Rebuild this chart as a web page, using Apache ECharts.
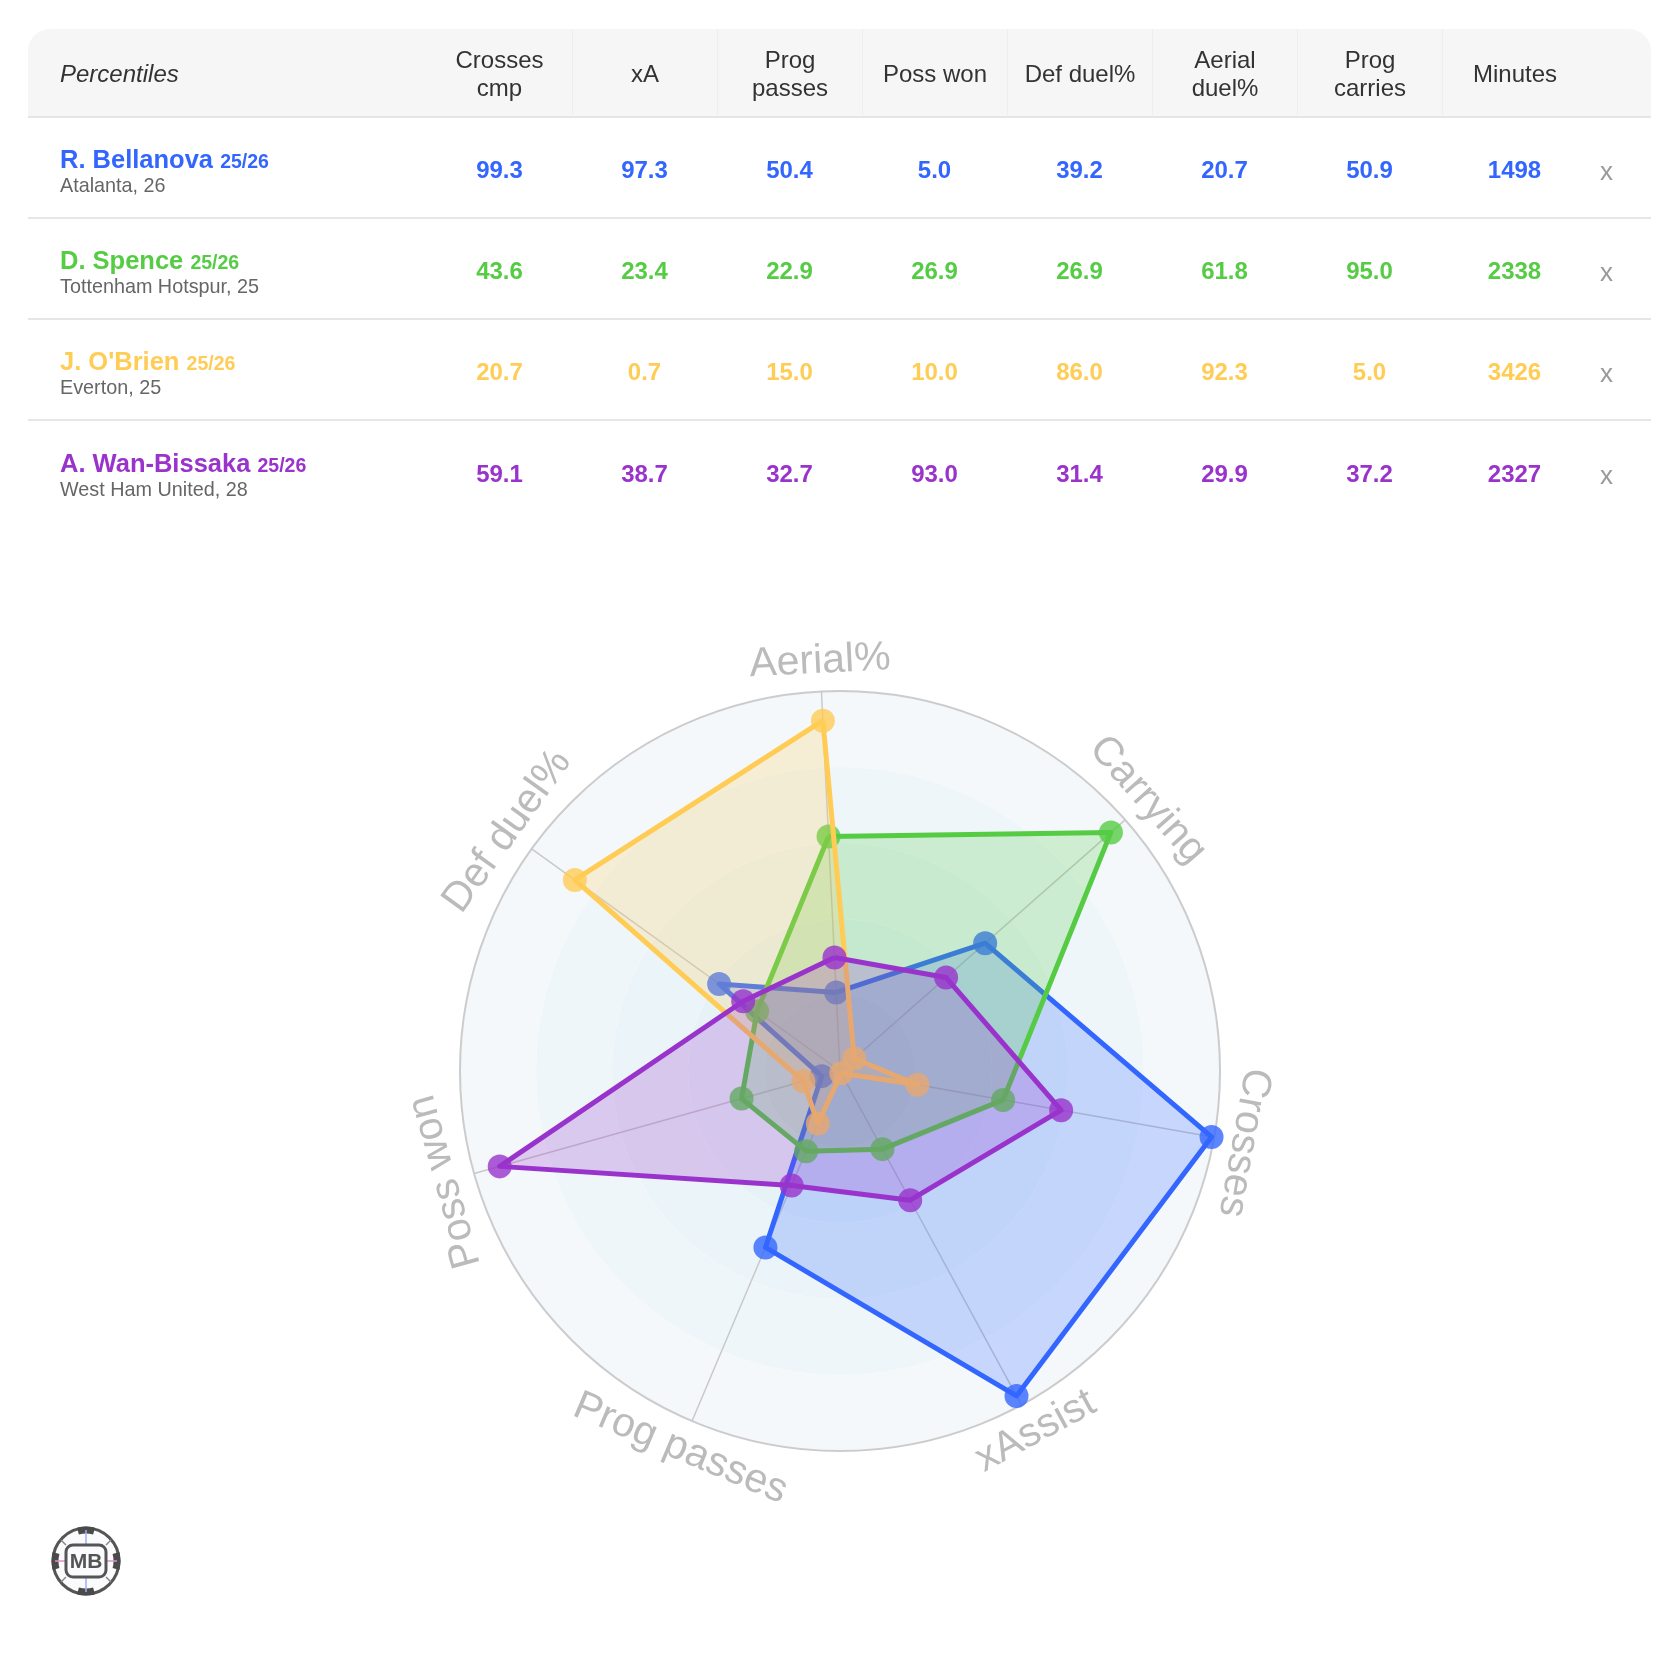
<!DOCTYPE html>
<html>
<head>
<meta charset="utf-8">
<title>Percentiles</title>
<script src="https://cdn.jsdelivr.net/npm/echarts@6/dist/echarts.min.js"></script>
<style>
html, body { margin: 0; padding: 0; background: #fff; }
body { width: 1680px; height: 1670px; position: relative; font-family: 'Liberation Sans', Arial, Helvetica, sans-serif; }
#chart { position: absolute; left: 0; top: 0; width: 1680px; height: 1670px; }
#tbl { position: absolute; left: 28px; top: 29px; width: 1623px; border-collapse: separate; border-spacing: 0; table-layout: fixed; z-index: 2; }
#tbl th { background: #f6f6f6; height: 89px; border-bottom: 2px solid #e5e5e5; font-weight: normal; font-size: 24px; line-height: 28px; color: #333; text-align: center; padding: 0; padding-top: 3px; box-sizing: border-box; }
#tbl th.first { text-align: left; font-style: italic; border-top-left-radius: 22px; }
#tbl th.last { border-top-right-radius: 22px; }
#tbl th.num + th.num { border-left: 1px solid #eeeeee; }
#tbl td { box-sizing: border-box; height: 101px; border-bottom: 2px solid #e6e6e6; padding: 0; padding-top: 5px; text-align: center; font-weight: bold; font-size: 24px; }
#tbl tr:last-child td { border-bottom: none; }
#tbl td.name { text-align: left; font-weight: normal; padding-top: 8px; }
.pad { margin-left: 32px; }
.nm { font-size: 25.5px; font-weight: bold; line-height: 25px; }
.ss { font-size: 19.5px; }
.club { font-size: 19.8px; color: #666; line-height: 22px; }
#tbl td.rm { text-align: left; font-weight: normal; color: #999; font-size: 26px; }
#tbl td.rm div { margin-left: 13px; margin-top: 3px; }
</style>
</head>
<body>
<table id="tbl">
  <colgroup>
    <col style="width:399px">
    <col style="width:145px"><col style="width:145px"><col style="width:145px"><col style="width:145px">
    <col style="width:145px"><col style="width:145px"><col style="width:145px"><col style="width:145px">
    <col style="width:64px">
  </colgroup>
  <thead><tr id="head"></tr></thead>
  <tbody id="body"></tbody>
</table>
<div id="chart"></div>
<script>
// players
const players = ['R. Bellanova', 'D. Spence', "J. O'Brien", 'A. Wan-Bissaka']
const season = '25/26'
const clubs = ['Atalanta, 26', 'Tottenham Hotspur, 25', 'Everton, 25', 'West Ham United, 28']
const colors = ['#3366ff', '#55cc44', '#ffcc55', '#9933cc']

// percentile columns
const columns = ['Crosses<br>cmp', 'xA', 'Prog<br>passes', 'Poss won', 'Def duel%', 'Aerial<br>duel%', 'Prog<br>carries', 'Minutes']
const crosses = [99.3, 43.6, 20.7, 59.1]
const xA = [97.3, 23.4, 0.7, 38.7]
const progPasses = [50.4, 22.9, 15.0, 32.7]
const possWon = [5.0, 26.9, 10.0, 93.0]
const defDuel = [39.2, 26.9, 86.0, 31.4]
const aerialDuel = [20.7, 61.8, 92.3, 29.9]
const progCarries = [50.9, 95.0, 5.0, 37.2]
const minutes = [1498, 2338, 3426, 2327]

// radar axes (counter-clockwise from top)
const axisNames = ['Aerial%', 'Def duel%', 'Poss won', 'Prog passes', 'xAssist', 'Crosses', 'Carrying']
const axisMax = 100

// ---- table ----
const head = document.getElementById('head')
let h = '<th class="first"><div class="pad">Percentiles</div></th>'
columns.forEach(c => { h += '<th class="num">' + c + '</th>' })
h += '<th class="last"></th>'
head.innerHTML = h

const body = document.getElementById('body')
players.forEach((p, i) => {
    const vals = [crosses[i], xA[i], progPasses[i], possWon[i], defDuel[i], aerialDuel[i], progCarries[i]]
    let row = '<tr style="color:' + colors[i] + '">'
    row += '<td class="name"><div class="pad"><div class="nm" style="color:' + colors[i] + '">' + p +
        ' <span class="ss">' + season + '</span></div><div class="club">' + clubs[i] + '</div></div></td>'
    vals.forEach(v => { row += '<td>' + v.toFixed(1) + '</td>' })
    row += '<td>' + minutes[i] + '</td>'
    row += '<td class="rm"><div>x</div></td></tr>'
    body.innerHTML += row
})

// ---- radar ----
const CX = 840, CY = 1071, R = 380, START = 92.8, LABEL_R = 410
const chart = echarts.init(document.getElementById('chart'))

const labelGraphics = axisNames.map((name, i) => {
    let deg = START + i * 360 / axisNames.length
    deg = ((deg % 360) + 360) % 360
    const rad = deg * Math.PI / 180
    const flip = deg > 200 && deg < 340 //bottom labels stay readable
    const rot = flip ? deg + 90 : deg - 90
    return {
        type: 'text',
        x: CX + LABEL_R * Math.cos(rad),
        y: CY - LABEL_R * Math.sin(rad),
        rotation: rot * Math.PI / 180,
        silent: true,
        style: {
            text: name,
            fill: '#bbbbbb',
            font: '41px "Liberation Sans", Arial, sans-serif',
            align: 'center',
            verticalAlign: 'middle'
        }
    }
})

const arc = (a0, a1) => ({
    type: 'arc',
    shape: { cx: 0, cy: 0, r: 31, startAngle: a0 * Math.PI / 180, endAngle: a1 * Math.PI / 180 },
    style: { stroke: '#4a4a4a', lineWidth: 7, fill: null }
})

const logo = {
    type: 'group',
    x: 86,
    y: 1561,
    silent: true,
    children: [
        { type: 'circle', shape: { cx: 0, cy: 0, r: 33 }, style: { fill: '#fbfbfd', stroke: '#555', lineWidth: 3 } },
        arc(-105, -75), arc(75, 105), arc(165, 195), arc(-15, 15),
        { type: 'line', shape: { x1: -31, y1: 0, x2: -20, y2: 0 }, style: { stroke: '#e58fc8', lineWidth: 1.5 } },
        { type: 'line', shape: { x1: 20, y1: 0, x2: 31, y2: 0 }, style: { stroke: '#e58fc8', lineWidth: 1.5 } },
        { type: 'line', shape: { x1: 0, y1: -31, x2: 0, y2: -16 }, style: { stroke: '#9db0f0', lineWidth: 1.5 } },
        { type: 'line', shape: { x1: 0, y1: 16, x2: 0, y2: 31 }, style: { stroke: '#9db0f0', lineWidth: 1.5 } },
        { type: 'line', shape: { x1: -20, y1: -16, x2: -25, y2: -21 }, style: { stroke: '#888', lineWidth: 1.5 } },
        { type: 'line', shape: { x1: 20, y1: -16, x2: 25, y2: -21 }, style: { stroke: '#888', lineWidth: 1.5 } },
        { type: 'line', shape: { x1: -20, y1: 16, x2: -25, y2: 21 }, style: { stroke: '#888', lineWidth: 1.5 } },
        { type: 'line', shape: { x1: 20, y1: 16, x2: 25, y2: 21 }, style: { stroke: '#888', lineWidth: 1.5 } },
        { type: 'rect', shape: { x: -20, y: -16, width: 40, height: 32, r: 7 }, style: { fill: '#fbfbfd', stroke: '#555', lineWidth: 3 } },
        { type: 'text', x: 0, y: 1, style: { text: 'MB', fill: '#555', font: 'bold 21px "Liberation Sans", Arial, sans-serif', align: 'center', verticalAlign: 'middle' } }
    ]
}

const option = {
    animation: false,
    backgroundColor: 'transparent',
    radar: {
        center: [CX, CY],
        radius: R,
        startAngle: START,
        shape: 'circle',
        splitNumber: 5,
        indicator: axisNames.map(n => ({ name: n, min: 0, max: axisMax })),
        axisName: { show: false },
        splitArea: {
            show: true,
            areaStyle: { color: ['#e3eef4', '#e7f2f7', '#ebf4f8', '#eff6fa', '#f4f8fb'] }
        },
        splitLine: {
            lineStyle: {
                color: ['rgba(0,0,0,0)', 'rgba(0,0,0,0)', 'rgba(0,0,0,0)', 'rgba(0,0,0,0)', 'rgba(0,0,0,0)', '#cccccc'],
                width: 2
            }
        },
        axisLine: { lineStyle: { color: '#c9c9c9', width: 1.5 } }
    },
    graphic: labelGraphics.concat([logo]),
    series: players.map((p, i) => ({
        type: 'radar',
        name: p,
        z: 2 + i, //later players sit over earlier ones, dots included
        symbol: 'circle',
        symbolSize: 24,
        lineStyle: { width: 5, color: colors[i] },
        itemStyle: { color: colors[i], opacity: 0.8 },
        areaStyle: { color: colors[i], opacity: 0.23 },
        emphasis: { disabled: true },
        data: [{
            name: p,
            value: [aerialDuel[i], defDuel[i], possWon[i], progPasses[i], xA[i], crosses[i], progCarries[i]]
        }]
    }))
}
chart.setOption(option)
</script>
</body>
</html>
